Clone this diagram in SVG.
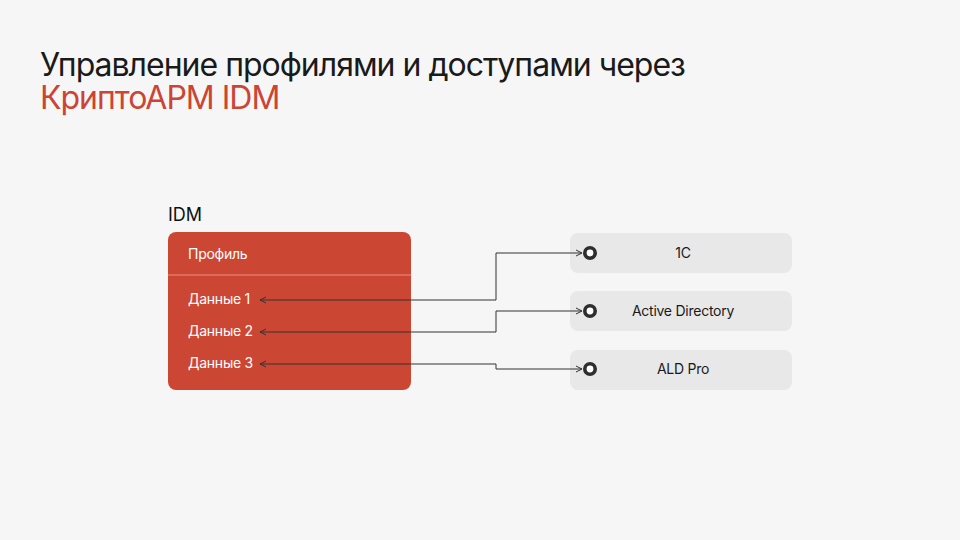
<svg xmlns="http://www.w3.org/2000/svg" width="960" height="540" viewBox="0 0 960 540">
<defs>
<style>
.title{font-family:Inter,"Liberation Sans",sans-serif;font-size:32px;letter-spacing:-1px;}
.lbl{font-family:Inter,"Liberation Sans",sans-serif;font-size:14px;letter-spacing:-0.25px;}
.w{fill:#ffffff;}
.k{fill:#1a1a1a;}
.sys{fill:#e8e8e8;}
.port{fill:#ffffff;stroke:#2e2e2e;stroke-width:3.6;}
.conn{fill:none;stroke:#333333;stroke-width:1;}
</style>
<marker id="ah" viewBox="0 0 8 8" refX="7" refY="4" markerWidth="8" markerHeight="8" markerUnits="userSpaceOnUse" orient="auto">
<path d="M1,1 L7,4 L1,7" fill="none" stroke="#333333" stroke-width="1"/>
</marker>
</defs>
<rect width="960" height="540" fill="#f6f6f6"/>
<text class="title" x="40" y="76" fill="#1a1a1a">Управление профилями и доступами через</text>
<text class="title" x="40" y="109" fill="#cc4433">КриптоАРМ IDM</text>

<g id="idm">
<text x="168" y="221" font-family="Inter,'Liberation Sans',sans-serif" font-size="18" fill="#111111">IDM</text>
<rect x="168" y="232" width="243" height="158" rx="8" fill="#cc4634"/>
<line x1="168" y1="275" x2="411" y2="275" stroke="#e9917f" stroke-width="1"/>
<text class="lbl w" x="188" y="259">Профиль</text>
<text class="lbl w" x="188" y="304">Данные 1</text>
<text class="lbl w" x="188" y="336">Данные 2</text>
<text class="lbl w" x="188" y="368">Данные 3</text>
</g>

<g id="sys-1c">
<rect class="sys" x="570" y="233" width="222" height="40" rx="8"/>
<circle class="port" cx="590" cy="253" r="5.2"/>
<text class="lbl k" x="683" y="258" text-anchor="middle">1C</text>
</g>
<g id="sys-ad">
<rect class="sys" x="570" y="291" width="222" height="40" rx="8"/>
<circle class="port" cx="590" cy="311" r="5.2"/>
<text class="lbl k" x="683" y="316" text-anchor="middle">Active Directory</text>
</g>
<g id="sys-ald">
<rect class="sys" x="570" y="350" width="222" height="40" rx="8"/>
<circle class="port" cx="590" cy="369" r="5.2"/>
<text class="lbl k" x="683" y="374" text-anchor="middle">ALD Pro</text>
</g>

<g id="connectors">
<path class="conn" d="M496,300 L496,253 L582,253" marker-end="url(#ah)"/>
<path class="conn" d="M496,300 L260,300" marker-end="url(#ah)"/>
<path class="conn" d="M496,332 L496,311 L582,311" marker-end="url(#ah)"/>
<path class="conn" d="M496,332 L260,332" marker-end="url(#ah)"/>
<path class="conn" d="M496,364 L496,369 L582,369" marker-end="url(#ah)"/>
<path class="conn" d="M496,364 L260,364" marker-end="url(#ah)"/>
</g>
</svg>
